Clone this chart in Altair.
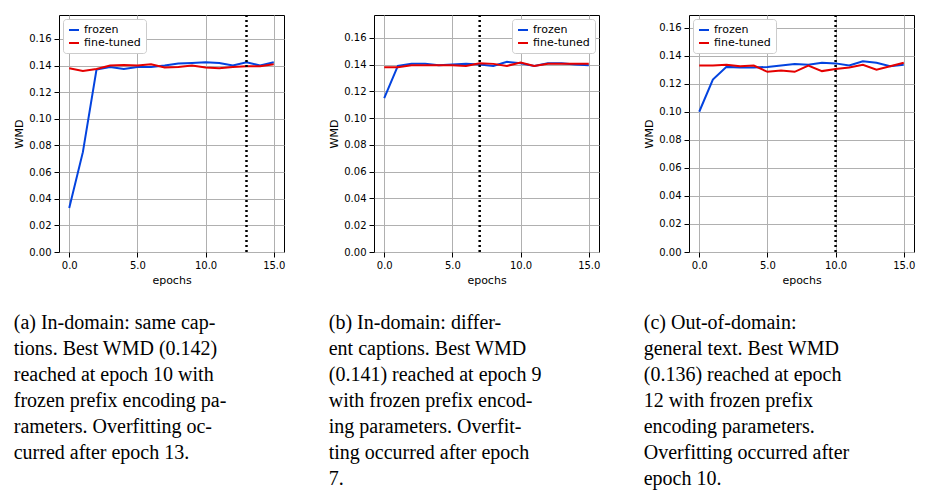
import altair as alt
import pandas as pd

epochs = list(range(16))

frozen_a = [0.033, 0.075, 0.137, 0.139, 0.1375, 0.139, 0.139, 0.140, 0.1415, 0.142, 0.1425, 0.142, 0.140, 0.1425, 0.140, 0.1425]
tuned_a = [0.138, 0.136, 0.1375, 0.140, 0.1405, 0.140, 0.141, 0.1385, 0.139, 0.140, 0.1385, 0.138, 0.139, 0.1395, 0.1395, 0.141]
frozen_b = [0.115, 0.139, 0.1405, 0.1405, 0.1395, 0.140, 0.1405, 0.140, 0.139, 0.142, 0.141, 0.139, 0.141, 0.141, 0.140, 0.1395]
tuned_b = [0.138, 0.138, 0.1395, 0.1395, 0.1395, 0.1395, 0.139, 0.141, 0.1405, 0.139, 0.1415, 0.139, 0.1405, 0.1405, 0.1405, 0.1405]
frozen_c = [0.100, 0.123, 0.132, 0.1315, 0.1315, 0.132, 0.133, 0.134, 0.1335, 0.135, 0.1345, 0.133, 0.136, 0.135, 0.1325, 0.1335]
tuned_c = [0.133, 0.133, 0.1335, 0.1325, 0.133, 0.1285, 0.1295, 0.1285, 0.133, 0.129, 0.1305, 0.1315, 0.1335, 0.130, 0.1325, 0.135]

overfit = [13, 7, 10]
ymax = [0.178, 0.177, 0.169]
legend_pos = ["top-left", "top-right", "top-left"]

captions = [
    ["(a) In-domain: same cap-", "tions. Best WMD (0.142)", "reached at epoch 10 with",
     "frozen prefix encoding pa-", "rameters. Overfitting oc-", "curred after epoch 13."],
    ["(b)   In-domain:  differ-", "ent captions. Best WMD", "(0.141) reached at epoch 9",
     "with frozen prefix encod-", "ing parameters.   Overfit-", "ting occurred after epoch", "7."],
    ["(c)       Out-of-domain:", "general text.  Best WMD", "(0.136) reached at epoch",
     "12   with   frozen   prefix", "encoding      parameters.", "Overfitting occurred after", "epoch 10."],
]

series = [(frozen_a, tuned_a), (frozen_b, tuned_b), (frozen_c, tuned_c)]


def panel(i):
    fr, tu = series[i]
    df = pd.DataFrame({
        "epochs": epochs * 2,
        "WMD": fr + tu,
        "serie": ["frozen"] * 16 + ["fine-tuned"] * 16,
    })
    lines = alt.Chart(df).mark_line(strokeWidth=2, clip=True).encode(
        x=alt.X("epochs:Q").title("epochs").scale(domain=[-0.75, 15.75], nice=False, zero=False)
            .axis(values=[0, 2.5, 5, 7.5, 10, 12.5, 15], format=".1f", labelOverlap=False),
        y=alt.Y("WMD:Q").title("WMD").scale(domain=[0, ymax[i]], nice=False)
            .axis(values=[0, 0.02, 0.04, 0.06, 0.08, 0.10, 0.12, 0.14, 0.16], format=".2f",
                  labelOverlap=False),
        color=alt.Color("serie:N", title=None).scale(
            domain=["frozen", "fine-tuned"], range=["#0343df", "#e50000"])
            .legend(orient=legend_pos[i], strokeColor="#cccccc", fillColor="white",
                    padding=5, symbolType="stroke", symbolStrokeWidth=2,
                    labelFontSize=11, offset=4, cornerRadius=3),
    )
    vline = alt.Chart(pd.DataFrame({"e": [overfit[i]]})).mark_rule(
        color="black", strokeDash=[2, 3], strokeWidth=2.5).encode(x=alt.X("e:Q").title("epochs"))
    return (lines + vline).properties(
        width=225, height=237,
        title=alt.TitleParams(
            text=captions[i], orient="bottom", anchor="start", frame="bounds",
            font="Liberation Serif", fontSize=20, fontWeight="normal",
            lineHeight=26, offset=28, color="black"),
    )


chart = alt.hconcat(panel(0), panel(1), panel(2), spacing=42).resolve_scale(
    color="independent").resolve_legend(color="independent").configure_view(
    stroke="black", strokeWidth=1).configure_axis(
    gridColor="#b0b0b0", labelFont="DejaVu Sans", titleFont="DejaVu Sans",
    labelFontSize=10, titleFontSize=11, titleFontWeight="normal",
    labelColor="black", titleColor="black", domain=False, tickColor="black",
    labelPadding=3).configure_legend(labelFont="DejaVu Sans")

chart.save("out.html", embed_options={"renderer": "svg", "actions": False})
